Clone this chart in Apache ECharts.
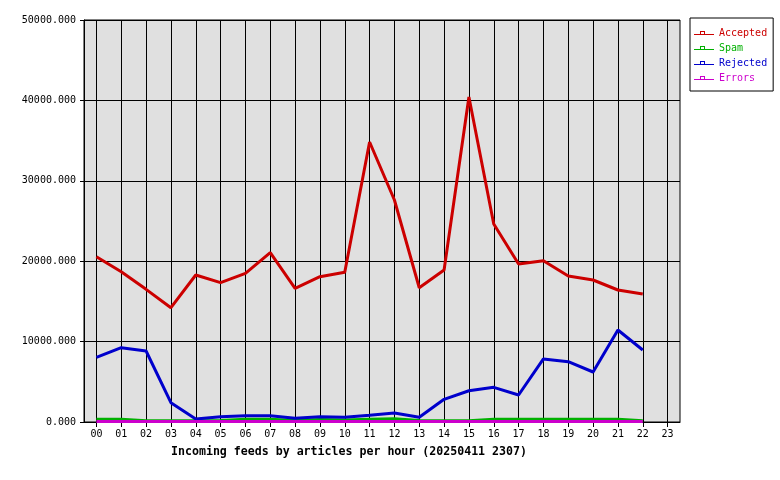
<!DOCTYPE html>
<html><head><meta charset="utf-8">
<script src="https://cdn.jsdelivr.net/npm/echarts@6/dist/echarts.min.js"></script>
<style>html,body{margin:0;padding:0;background:#fff}#c{width:780px;height:480px}</style>
</head><body><div id="c"></div>
<script>
const hours = ['00','01','02','03','04','05','06','07','08','09','10','11','12','13','14','15','16','17','18','19','20','21','22','23'];
const accepted = [20560,18690,16500,14220,18280,17330,18490,21060,16630,18070,18620,34830,27610,16700,18900,40420,24630,19650,20060,18160,17660,16420,15920,null];
const spam     = [350,350,150,150,150,200,350,350,200,300,250,350,400,200,150,150,350,350,350,350,350,350,150,null];
const rejected = [8040,9240,8830,2400,370,660,790,790,460,660,580,830,1120,580,2820,3890,4310,3360,7840,7500,6220,11440,8960,null];
const errors   = [50,50,50,50,50,50,50,50,50,50,50,50,50,50,50,50,50,50,50,50,50,50,50,null];
const yTicks = {min:0, max:50000, interval:10000};
const titleText = 'Incoming feeds by articles per hour (20250411 2307)';

const FONT = 'DejaVu Sans Mono';
const colors = {Accepted:'#cc0000', Spam:'#00b000', Rejected:'#0000cc', Errors:'#cc00cc'};
const icon = 'path://M0,3H20V4H0Z M6,0H11V4H6Z M7,1V3H10V1Z';

function mk(name, data){
  return {name, type:'line', data, showSymbol:false, symbol:'none', smooth:false,
    lineStyle:{width:3, color:colors[name]}, itemStyle:{color:colors[name]}, animation:false, z: name==='Accepted'?5:3};
}
const chart = echarts.init(document.getElementById('c'), null, {renderer:'canvas'});
chart.setOption({
  animation:false,
  backgroundColor:'#ffffff',
  title:{text:titleText, left:171, top:446, padding:0,
    textStyle:{fontFamily:FONT, fontSize:11.6, fontWeight:'bold', color:'#000'}},
  legend:{orient:'vertical', left:690, top:18, padding:[10,6,8,4], itemGap:5,
    itemWidth:20, itemHeight:5, borderColor:'#000', borderWidth:1, backgroundColor:'#fff',
    textStyle:{fontFamily:FONT, fontSize:10}, icon:icon,
    data:['Accepted','Spam','Rejected','Errors'].map(n=>({name:n, icon:icon, textStyle:{color:colors[n]}, itemStyle:{color:colors[n]}}))},
  grid:{left:84, right:100, top:20, bottom:58, show:true, backgroundColor:'#e0e0e0', borderColor:'#000', borderWidth:1},
  xAxis:{type:'category', data:hours, boundaryGap:true,
    axisLine:{lineStyle:{color:'#000', width:1}},
    axisTick:{show:true, alignWithLabel:true, length:5, lineStyle:{color:'#000'}},
    splitLine:{show:true, alignWithLabel:true, lineStyle:{color:'#000', width:1}},
    axisLabel:{fontFamily:FONT, fontSize:10, color:'#000', margin:7, interval:0}},
  yAxis:{type:'value', min:yTicks.min, max:yTicks.max, interval:yTicks.interval,
    axisLine:{show:true, lineStyle:{color:'#000'}},
    axisTick:{show:true, length:4, lineStyle:{color:'#000'}},
    splitLine:{show:true, lineStyle:{color:'#000', width:1}},
    axisLabel:{fontFamily:FONT, fontSize:10, color:'#000', margin:8, formatter:v=>v.toFixed(3)}},
  series:[mk('Accepted',accepted), mk('Spam',spam), mk('Rejected',rejected), mk('Errors',errors)]
});
</script></body></html>
